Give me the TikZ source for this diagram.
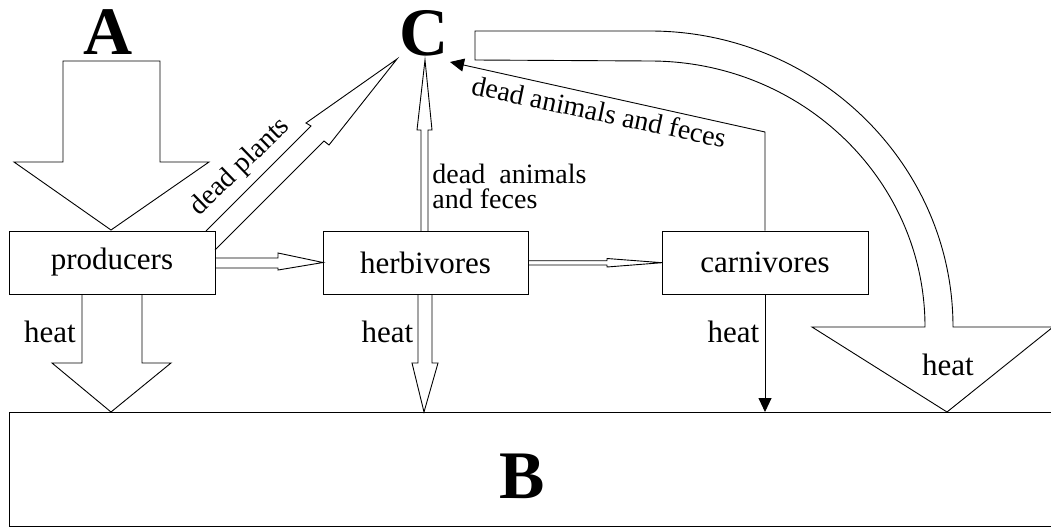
\documentclass[tikz,border=0pt]{standalone}
\usepackage{fontspec}
\setmainfont{Liberation Serif}
\usetikzlibrary{arrows.meta}
\begin{document}
\begin{tikzpicture}[x=1pt,y=-1pt,line width=0.9pt,
  box/.style={draw, minimum width=206pt, minimum height=63pt, inner sep=0pt, font=\fontsize{31}{31}\selectfont},
  lbl/.style={inner sep=0pt, font=\fontsize{31}{31}\selectfont, anchor=base},
  small/.style={inner sep=0pt, font=\fontsize{28}{28}\selectfont},
  big/.style={inner sep=0pt, font=\fontsize{68}{68}\selectfont\bfseries, anchor=base},
  blk/.style={line join=miter},
  tip/.style={-{Triangle[length=14pt,width=13pt]}}]
\useasboundingbox (0,0) rectangle (1051,527);
\clip (0,0) rectangle (1051,527);

% boxes
\node[box] (prod) at (112,262.5) {producers};
\node[box, minimum width=205pt] (herb) at (425.5,262.5) {herbivores};
\node[box] (carn) at (765,262.5) {carnivores};
\node[draw, minimum width=1060pt, minimum height=114pt, anchor=north west, inner sep=0pt] (ground) at (9,412) {};

% big letters
\node[big] (A) at (108.5,55) {A};
\node[big] (C) at (424.5,56) {C};
\node[big] (B) at (522,498) {B};

% A input arrow
\draw[blk] (63,61) -- (63,162) -- (14,162) -- (111,230) -- (209,162) -- (160,162) -- (160,61) -- cycle;

% producers heat
\draw[blk] (82,294) -- (82,363) -- (52,363) -- (111,412) -- (171,363) -- (142,363) -- (142,294);
% herbivores heat
\draw[blk] (418,294) -- (418,363) -- (412,363) -- (424,412) -- (438,363) -- (432,363) -- (432,294);
% herbivores to C
\draw[blk] (421,231) -- (421,130) -- (417,130) -- (425,60) -- (432,130) -- (428,130) -- (428,231);
% producers to herbivores
\draw[blk] (215,258) -- (278,258) -- (278,253) -- (323,262.5) -- (278,270) -- (278,268) -- (215,268);
% herbivores to carnivores
\draw[blk] (528,260.7) -- (607,260.7) -- (607,258.5) -- (662,262.7) -- (607,267) -- (607,265) -- (528,265);
% dead plants arrow
\draw[blk] (206,231) -- (311,126) -- (306,123) -- (397,59) -- (329,145) -- (324,141) -- (215,250);

% big curved heat arrow
\draw[blk] (475,60) -- (475,31) -- (650,31) .. controls (817,31) and (953,164) .. (953,327)
  -- (1053,327) -- (947,412) -- (812,327) -- (925,327)
  .. controls (925,180) and (802,61) .. (650,61) -- cycle;

% carnivores lines
\coordinate (k1) at (765,132);
\coordinate (ctip) at (450,62);
\draw[tip] (carn.north) -- (k1) -- (ctip);
\draw[tip] (carn.south) -- (carn.south |- ground.north);

% labels
\node[lbl] (h1) at (50,342) {heat};
\node[lbl] (h2) at (387.5,342) {heat};
\node[lbl] (h3) at (733.5,342) {heat};
\node[lbl] (h4) at (948,375) {heat};
\node[small, rotate=44, anchor=base] (dp) at (245,172) {dead plants};
\node[small, rotate=-12, anchor=base] (daf) at (597,121) {dead animals and feces};
\node[small, anchor=base west] (da1) at (432,183) {dead\ \ animals};
\node[small, anchor=base west] (da2) at (432,208) {and feces};
\end{tikzpicture}
\end{document}
